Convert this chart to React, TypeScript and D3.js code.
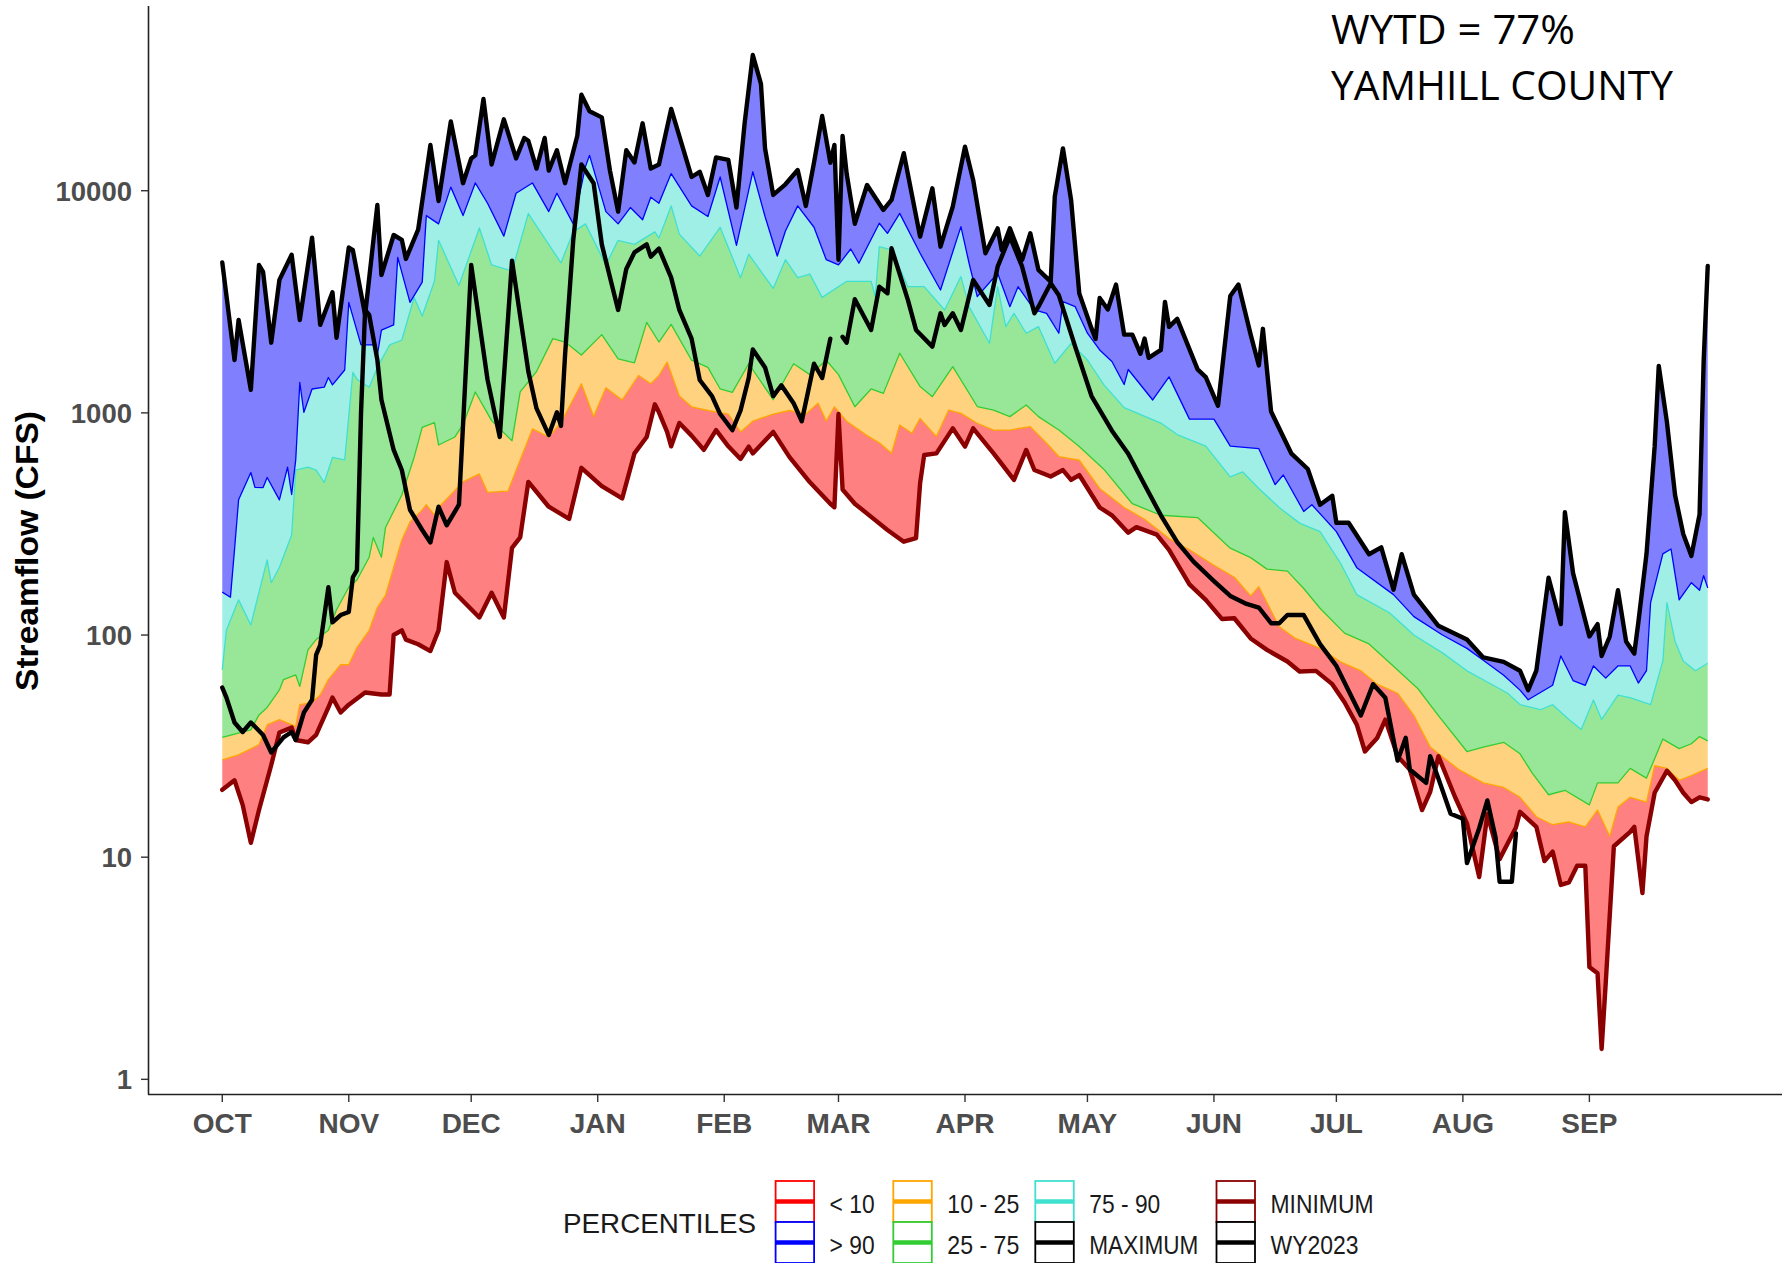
import React from "react";
import * as d3 from "d3";

const W = 1791;
const H = 1263;
const WATER_YEAR_START = "2022-10-01";
const MONTH_LABELS = ["OCT", "NOV", "DEC", "JAN", "FEB", "MAR", "APR", "MAY", "JUN", "JUL", "AUG", "SEP"];
const Y_TICKS = [1, 10, 100, 1000, 10000];
const ANNOTATION = ["WYTD = 77%", "YAMHILL COUNTY"];

type Pt = [number, number | null]; // [day of water year, streamflow cfs]

const maxFlow: Pt[] = [
  [0, 4750], [3, 1730], [4, 2620], [7, 1270], [9, 4630], [10, 4310], [12, 2070], [14, 3970], [17, 5150], [19, 2620],
  [22, 6150], [24, 2490], [27, 3490], [28, 2180], [31, 5550], [32, 5400], [35, 2760], [38, 8630], [39, 4170], [42, 6320],
  [44, 6010], [45, 4930], [48, 6690], [51, 16060], [53, 8990], [56, 20490], [59, 10810], [61, 13980], [62, 14430], [64, 25870],
  [66, 13130], [69, 20960], [72, 13980], [74, 17280], [75, 16780], [77, 12580], [79, 17280], [80, 12320], [82, 15220], [84, 10810],
  [87, 17670], [88, 27030], [90, 22800], [93, 21380], [95, 12320], [97, 8050], [99, 15220], [101, 13400], [103, 20110], [105, 12580],
  [107, 13130], [110, 23340], [115, 11530], [117, 12170], [119, 9570], [121, 14130], [124, 13770], [126, 8400], [128, 20110], [130, 40820],
  [132, 30290], [133, 15500], [135, 9570], [138, 10690], [141, 12390], [143, 8540], [145, 13370], [147, 21690], [149, 13370], [150, 16080],
  [151, 4890], [152, 17650], [153, 11940], [155, 7100], [158, 10610], [162, 8190], [164, 9100], [167, 14750], [171, 6210], [174, 10250],
  [176, 5600], [179, 8480], [182, 15790], [184, 11180], [187, 5230], [190, 6770], [191, 5410], [193, 6770], [196, 4880], [198, 6430],
  [200, 4400], [203, 3900], [204, 9400], [206, 15510], [208, 9080], [210, 3450], [213, 2400], [214, 2150], [215, 3290], [217, 2920],
  [219, 3780], [221, 2250], [223, 2250], [225, 1845], [226, 2160], [227, 1770], [230, 1920], [231, 3160], [232, 2440], [234, 2650],
  [239, 1570], [241, 1450], [244, 1076], [247, 3360], [249, 3780], [252, 2250], [254, 1635], [255, 2390], [257, 1014], [262, 655],
  [266, 559], [269, 386], [272, 423], [273, 320], [276, 320], [281, 231], [284, 248], [287, 160], [289, 231], [292, 152],
  [298, 110], [305, 95.5], [309, 79.3], [314, 75.7], [318, 69.1], [320, 56.5], [322, 69.1], [325, 181], [328, 112], [329, 357],
  [331, 190], [335, 98.5], [337, 112], [338, 80.5], [340, 98.5], [342, 159], [344, 93.6], [346, 82.5], [347, 114], [349, 232],
  [351, 708], [352, 1627], [354, 910], [356, 426], [358, 285], [360, 227], [362, 349], [363, 1700], [364, 4580],
];

const p90: Pt[] = [
  [0, 156], [2, 148], [3, 242], [4, 406], [7, 539], [8, 462], [10, 461], [11, 512], [14, 406], [16, 570],
  [17, 429], [18, 614], [19, 1370], [20, 1006], [22, 1281], [25, 1305], [26, 1443], [27, 1337], [30, 1559], [31, 3143],
  [34, 2022], [37, 2022], [38, 1822], [39, 2359], [42, 2488], [43, 5010], [46, 3143], [49, 3879], [50, 7726], [53, 7094],
  [56, 10380], [59, 7726], [62, 10840], [65, 8780], [69, 6244], [72, 9743], [76, 10840], [80, 8054], [82, 9743], [86, 7094],
  [89, 12840], [90, 14430], [94, 8054], [97, 7094], [100, 8402], [103, 7403], [105, 9349], [107, 8780], [110, 11940], [115, 8544],
  [119, 7653], [122, 11530], [126, 5679], [130, 12170], [133, 7653], [136, 5080], [138, 6592], [141, 8544], [145, 6847], [148, 4893],
  [151, 4633], [154, 5467], [156, 4715], [161, 7136], [163, 6430], [166, 7911], [171, 5228], [176, 3574], [181, 6896], [183, 4715],
  [185, 3337], [190, 4249], [193, 3006], [195, 3700], [199, 2905], [202, 2807], [205, 2283], [206, 3168], [209, 3006], [212, 2283],
  [215, 1920], [218, 1704], [221, 1341], [222, 1568], [228, 1143], [232, 1452], [237, 937], [243, 937], [247, 709], [254, 690],
  [258, 475], [260, 525], [265, 360], [267, 386], [273, 292], [278, 201], [287, 152], [292, 121], [299, 100], [305, 87.1],
  [309, 77], [314, 65.9], [318, 56.5], [320, 51.1], [326, 59.4], [328, 80.5], [331, 62.4], [334, 59.4], [336, 72.6], [339, 64.0],
  [342, 72.6], [345, 72.6], [347, 60.8], [349, 69.1], [350, 140], [353, 232], [355, 244], [357, 144], [360, 172], [362, 159],
  [363, 185], [364, 163],
];

const p75: Pt[] = [
  [0, 69.6], [1, 105], [4, 144], [7, 111], [9, 156], [11, 218], [12, 172], [14, 202], [17, 282], [18, 553],
  [21, 570], [23, 553], [25, 486], [27, 630], [30, 614], [32, 1522], [33, 1418], [36, 1305], [38, 1602], [41, 2022],
  [44, 2128], [47, 3306], [49, 2729], [52, 3925], [53, 5981], [58, 3748], [63, 6798], [66, 4633], [71, 4350], [75, 7894],
  [80, 5733], [83, 4732], [86, 6530], [89, 7094], [94, 4633], [97, 5981], [101, 5733], [106, 6530], [107, 6117], [110, 8544],
  [112, 6376], [117, 5080], [122, 6847], [127, 4062], [129, 5177], [135, 3634], [138, 4893], [141, 4062], [144, 4214], [147, 3310],
  [153, 3911], [159, 3911], [160, 3340], [161, 5600], [164, 5410], [168, 3700], [172, 3700], [177, 2905], [181, 4106], [183, 3006],
  [188, 2057], [190, 3700], [192, 2445], [194, 2807], [197, 2283], [200, 2445], [204, 1672], [208, 2057], [212, 1730], [216, 1341],
  [221, 1056], [230, 900], [234, 799], [241, 709], [247, 515], [250, 543], [254, 457], [259, 375], [264, 319], [269, 292],
  [274, 211], [278, 152], [286, 126], [292, 100], [299, 83.1], [305, 69.0], [309, 62.9], [315, 54.7], [318, 48.6], [323, 46.1],
  [326, 48.6], [330, 41.7], [333, 37.6], [336, 51.0], [338, 41.7], [342, 53.7], [345, 52.3], [350, 48.6], [353, 76.4], [354, 140],
  [356, 93.6], [358, 76.4], [361, 69.1], [364, 74.6],
];

const p25: Pt[] = [
  [0, 34.6], [7, 37.4], [9, 43.7], [11, 47.2], [14, 56.6], [15, 63], [18, 66.1], [19, 58.7], [21, 85.7], [23, 95.4],
  [26, 105], [28, 130], [31, 164], [33, 177], [36, 224], [37, 275], [39, 224], [40, 305], [44, 427], [47, 630],
  [49, 860], [52, 904], [53, 717], [57, 779], [59, 886], [62, 1242], [66, 923], [71, 748], [73, 1242], [77, 1535],
  [81, 2159], [84, 2084], [88, 1822], [93, 2250], [97, 1749], [101, 1681], [104, 2556], [107, 2084], [110, 2502], [115, 1726],
  [119, 1602], [122, 1281], [125, 1236], [129, 1664], [135, 1146], [140, 1664], [144, 1487], [148, 1726], [151, 1487], [155, 1065],
  [159, 1281], [162, 1224], [166, 1855], [171, 1313], [174, 1183], [179, 1615], [185, 1068], [189, 1030], [193, 962], [197, 1085],
  [200, 962], [205, 837], [210, 705], [216, 558], [223, 390], [230, 346], [239, 338], [247, 246], [252, 223], [256, 198],
  [261, 194], [265, 162], [269, 132], [275, 102], [281, 91.2], [287, 72.3], [293, 57.3], [298, 43.4], [305, 29.9], [309, 31.3],
  [314, 32.9], [318, 29.2], [321, 23.9], [325, 19.1], [329, 20.0], [335, 17.2], [337, 21.6], [342, 21.6], [345, 25.1], [349, 22.7],
  [353, 34.0], [357, 30.8], [360, 32.4], [362, 34.9], [364, 33.4],
];

const p10: Pt[] = [
  [0, 27.4], [4, 28.9], [9, 32.1], [11, 39.4], [14, 41.6], [18, 38.8], [19, 48.6], [22, 49.7], [24, 53.7], [26, 63.0],
  [29, 73.5], [31, 73.5], [33, 87.8], [36, 105], [38, 133], [40, 151], [44, 268], [46, 323], [49, 366], [50, 386],
  [52, 347], [53, 375], [59, 489], [63, 531], [65, 439], [70, 444], [76, 847], [80, 779], [83, 904], [88, 1352],
  [91, 963], [94, 1296], [98, 1143], [102, 1473], [105, 1352], [107, 1473], [109, 1693], [112, 1190], [115, 1065], [119, 1025],
  [124, 988], [127, 821], [130, 917], [135, 988], [139, 1025], [143, 988], [146, 1106], [148, 917], [150, 1065], [153, 917],
  [158, 790], [161, 733], [164, 658], [166, 882], [169, 809], [171, 945], [175, 782], [178, 1030], [181, 995], [185, 898],
  [189, 837], [193, 837], [198, 867], [202, 730], [205, 636], [210, 612], [215, 457], [221, 375], [226, 332], [232, 272],
  [237, 242], [243, 206], [248, 182], [252, 150], [254, 165], [259, 109], [263, 96.5], [269, 87.1], [274, 75.7], [279, 69.0],
  [283, 60.1], [288, 54.7], [292, 43.4], [296, 31.3], [303, 24.8], [309, 21.6], [314, 20.6], [318, 18.6], [322, 15.2], [326, 14.0],
  [330, 14.4], [334, 13.7], [337, 16.3], [340, 12.4], [342, 16.8], [345, 18.6], [349, 17.7], [351, 25.8], [354, 25.1], [357, 22.2],
  [360, 23.3], [364, 25.1],
];

const minFlow: Pt[] = [
  [0, 20.1], [3, 22.2], [5, 17.2], [7, 11.6], [9, 16.3], [12, 26.0], [14, 36.4], [17, 38.3], [18, 33.7], [21, 32.9],
  [23, 35.5], [26, 47.2], [27, 52.3], [29, 44.8], [31, 48.6], [35, 55.1], [39, 54.0], [41, 54.0], [42, 100], [44, 105],
  [45, 95.4], [48, 90.9], [51, 84.7], [53, 105], [55, 213], [57, 155], [63, 120], [66, 155], [69, 120], [71, 247],
  [73, 275], [75, 489], [80, 378], [85, 333], [88, 566], [93, 468], [98, 412], [101, 657], [104, 779], [106, 1093],
  [107, 1006], [109, 821], [110, 707], [112, 901], [115, 790], [118, 681], [121, 836], [124, 707], [127, 620], [129, 705],
  [130, 657], [135, 821], [139, 632], [144, 487], [149, 390], [150, 376], [151, 988], [152, 452], [155, 390], [160, 329],
  [163, 297], [167, 263], [170, 273], [171, 482], [172, 646], [175, 657], [179, 852], [182, 705], [184, 852], [189, 657],
  [194, 499], [197, 681], [199, 553], [203, 517], [206, 553], [208, 499], [210, 525], [215, 375], [218, 346], [222, 289],
  [224, 306], [229, 283], [232, 242], [237, 169], [241, 144], [245, 118], [248, 119], [252, 96.5], [256, 85.7], [261, 76.0],
  [264, 68.5], [268, 69.0], [272, 60.1], [275, 49.8], [278, 39.5], [280, 29.9], [283, 34.4], [285, 41.6], [288, 28.5], [291, 24.8],
  [294, 16.3], [296, 19.7], [298, 28.5], [302, 18.8], [305, 14.2], [308, 8.14], [310, 15.6], [313, 9.8], [317, 13.6], [318, 16.0],
  [322, 13.7], [324, 9.6], [326, 10.6], [328, 7.5], [330, 7.7], [332, 9.15], [334, 9.15], [335, 3.2], [337, 3.0], [338, 1.37],
  [339, 2.7], [341, 11.2], [345, 13.0], [346, 13.7], [348, 6.9], [349, 12.4], [351, 19.5], [354, 24.5], [356, 22.2], [358, 19.5],
  [360, 17.7], [362, 18.6], [364, 18.2],
];

const wy2023: Pt[] = [
  [0, 58.0], [1, 52.4], [3, 40.4], [5, 36.6], [7, 40.4], [10, 35.5], [12, 29.6], [15, 34.6], [17, 36.6], [18, 33.7],
  [20, 44.8], [22, 51.1], [23, 81.4], [24, 90.2], [26, 164], [27, 114], [29, 123], [31, 127], [32, 182], [33, 196],
  [34, 1000], [35, 2905], [36, 2758], [38, 1734], [39, 1146], [42, 681], [44, 553], [46, 366], [49, 297], [51, 261],
  [53, 378], [55, 312], [58, 386], [61, 4633], [65, 1411], [68, 779], [71, 4840], [75, 1535], [77, 1047], [80, 796],
  [82, 1006], [83, 873], [84, 1822], [86, 5981], [88, 13130], [91, 10810], [93, 5733], [97, 2905], [99, 4444], [101, 5277],
  [104, 5733], [105, 5049], [107, 5493], [110, 4062], [112, 2905], [115, 2159], [117, 1406], [120, 1190], [122, 988], [125, 836],
  [127, 1025], [129, 1435], [130, 1929], [133, 1602], [135, 1190], [137, 1331], [140, 1106], [142, 917], [145, 1664], [147, 1435],
  [149, 2159], [150, null], [152, 2198], [153, 2071], [155, 3248], [159, 2362], [161, 3700], [163, 3454], [164, 5506], [168, 3225],
  [170, 2362], [174, 1987], [176, 2807], [177, 2488], [179, 2807], [181, 2362], [184, 3966], [188, 3060], [190, 4550], [193, 6214],
  [196, 4550], [199, 2807], [200, 3006], [203, 3832], [205, 3381], [209, 1987], [213, 1191], [218, 831], [222, 655], [226, 475],
  [230, 346], [234, 262], [238, 214], [243, 175], [247, 150], [251, 138], [254, 133], [257, 113], [259, 113], [261, 123],
  [265, 123], [269, 91], [273, 72.6], [279, 43.4], [282, 60.1], [285, 52.2], [288, 27.2], [290, 34.5], [291, 24.8], [295, 21.6],
  [296, 28.5], [298, 22.6], [301, 15.7], [304, 14.9], [305, 9.4], [308, 13.5], [310, 18.0], [312, 12.3], [313, 7.75], [316, 7.75],
  [317, 12.8],
];

const BANDS = [
  { upper: p10, lower: minFlow, fill: "#FF8080" },
  { upper: p25, lower: p10, fill: "#FFD280" },
  { upper: p75, lower: p25, fill: "#98E698" },
  { upper: p90, lower: p75, fill: "#A0EFE7" },
  { upper: maxFlow, lower: p90, fill: "#8080FF" },
];

const EDGES = [
  { data: p10, color: "#FFA500" },
  { data: p25, color: "#32CD32" },
  { data: p75, color: "#40E0D0" },
  { data: p90, color: "#0000FF" },
];

const LEGEND = [
  { label: "< 10", color: "#FF0000", len: 45 },
  { label: "> 90", color: "#0000FF", len: 45 },
  { label: "10 - 25", color: "#FFA500", len: 72 },
  { label: "25 - 75", color: "#32CD32", len: 72 },
  { label: "75 - 90", color: "#40E0D0", len: 71 },
  { label: "MAXIMUM", color: "#000000", len: 109 },
  { label: "MINIMUM", color: "#8B0000", len: 103 },
  { label: "WY2023", color: "#000000", len: 88 },
];

const FONT = "'Liberation Sans', Arial, Helvetica, sans-serif";

export default function App() {
  const start = d3.utcParse("%Y-%m-%d")(WATER_YEAR_START) as Date;
  const toDate = (d: number) => d3.utcDay.offset(start, d);
  const DAY = 864e5;
  const end = toDate(364);
  const pad = 364 * 0.05 * DAY;

  const x = d3
    .scaleUtc()
    .domain([new Date(start.getTime() - pad), new Date(end.getTime() + pad)])
    .range([148, 1782]);
  const y = d3.scaleLog().domain([Math.pow(10, -0.066), Math.pow(10, 4.8315)]).range([1094, 6]);

  const line = d3
    .line<Pt>()
    .defined((p) => p[1] != null)
    .x((p) => x(toDate(p[0])))
    .y((p) => y(p[1] as number));

  const bandPath = (upper: Pt[], lower: Pt[]) => {
    const pts = [...upper, ...lower.slice().reverse()].map(
      (p) => [x(toDate(p[0])), y(p[1] as number)] as [number, number]
    );
    return (d3.line()(pts) || "") + "Z";
  };

  const monthTicks = d3.utcMonth.range(start, toDate(365));

  const legendCols = [775.6, 893.3, 1035.3, 1216.5];
  const legendRows = [1181, 1222];
  const boxW = 38.5;
  const boxH = 41;
  const thick = 4.4;

  return (
    <svg
      width={W}
      height={H}
      viewBox={`0 0 ${W} ${H}`}
      style={{ position: "absolute", left: 0, top: 0, display: "block", background: "#fff" }}
      fontFamily={FONT}
    >
      <rect x={0} y={0} width={W} height={H} fill="#fff" />

      {BANDS.map((b, i) => (
        <path key={"band" + i} d={bandPath(b.upper, b.lower)} fill={b.fill} stroke="none" />
      ))}
      {EDGES.map((e, i) => (
        <path key={"edge" + i} d={line(e.data) || ""} fill="none" stroke={e.color} strokeWidth={1.3} strokeLinejoin="round" />
      ))}
      <path d={line(minFlow) || ""} fill="none" stroke="#8B0000" strokeWidth={thick} strokeLinejoin="round" strokeLinecap="round" />
      <path d={line(maxFlow) || ""} fill="none" stroke="#000" strokeWidth={thick} strokeLinejoin="round" strokeLinecap="round" />
      <path d={line(wy2023) || ""} fill="none" stroke="#000" strokeWidth={thick} strokeLinejoin="round" strokeLinecap="round" />

      {/* axes */}
      <line x1={148.5} y1={6} x2={148.5} y2={1094.5} stroke="#222" strokeWidth={1.6} />
      <line x1={148} y1={1094.5} x2={1782} y2={1094.5} stroke="#222" strokeWidth={1.6} />
      {Y_TICKS.map((t) => (
        <g key={"yt" + t}>
          <line x1={141} x2={148} y1={y(t)} y2={y(t)} stroke="#333" strokeWidth={1.4} />
          <text x={132} y={y(t)} dy="0.36em" textAnchor="end" fontSize={27.5} fontWeight="bold" fill="#4D4D4D">
            {t}
          </text>
        </g>
      ))}
      {monthTicks.map((m, i) => (
        <g key={"xt" + i}>
          <line x1={x(m)} x2={x(m)} y1={1095} y2={1102} stroke="#333" strokeWidth={1.4} />
          <text x={x(m)} y={1133} textAnchor="middle" fontSize={28} fontWeight="bold" fill="#4D4D4D">
            {MONTH_LABELS[i]}
          </text>
        </g>
      ))}
      <text
        transform="translate(38,551) rotate(-90)"
        textAnchor="middle"
        fontSize={32}
        fontWeight="bold"
        fill="#000"
        textLength={280}
        lengthAdjust="spacingAndGlyphs"
      >
        Streamflow (CFS)
      </text>

      {/* annotation */}
      <text x={1331} y={43.5} fontSize={40} fill="#000" fontFamily="'Open Sans', 'Noto Sans', sans-serif" textLength={244} lengthAdjust="spacingAndGlyphs">
        {ANNOTATION[0]}
      </text>
      <text x={1331} y={100} fontSize={40} fill="#000" fontFamily="'Open Sans', 'Noto Sans', sans-serif" textLength={342} lengthAdjust="spacingAndGlyphs">
        {ANNOTATION[1]}
      </text>

      {/* legend */}
      <text x={563} y={1233} fontSize={28} fill="#1a1a1a" textLength={193} lengthAdjust="spacingAndGlyphs">
        PERCENTILES
      </text>
      {LEGEND.map((item, i) => {
        const col = Math.floor(i / 2);
        const row = i % 2;
        const bx = legendCols[col];
        const by = legendRows[row];
        return (
          <g key={"lg" + i}>
            <rect x={bx} y={by} width={boxW} height={boxH} fill="#fff" stroke={item.color} strokeWidth={1.8} />
            <line x1={bx} x2={bx + boxW} y1={by + boxH / 2} y2={by + boxH / 2} stroke={item.color} strokeWidth={4.5} />
            <text
              x={bx + 54}
              y={by + 32}
              fontSize={25}
              fill="#1a1a1a"
              textLength={item.len}
              lengthAdjust="spacingAndGlyphs"
            >
              {item.label}
            </text>
          </g>
        );
      })}
    </svg>
  );
}
